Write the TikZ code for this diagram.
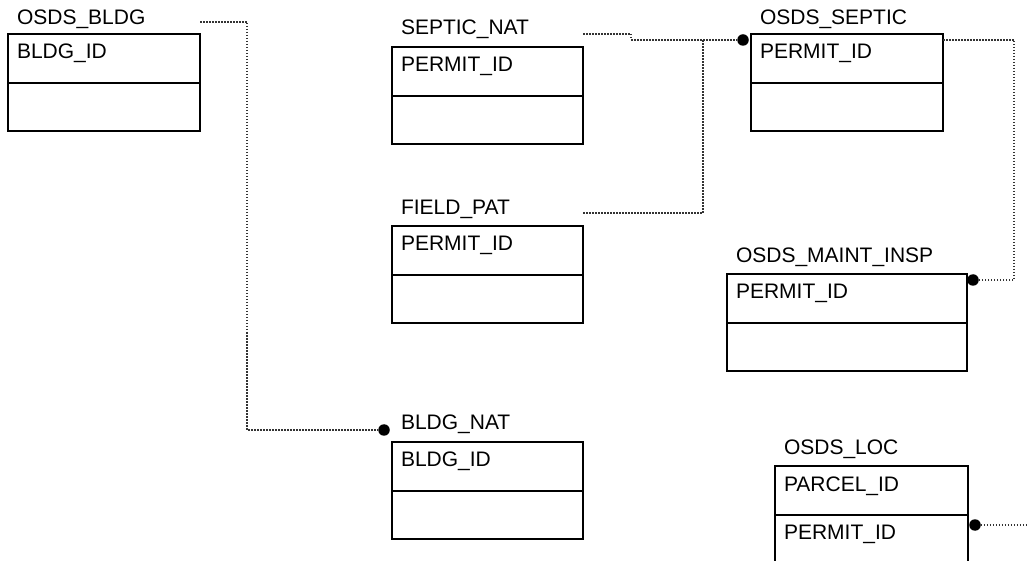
\documentclass[tikz,border=0pt]{standalone}
\usepackage{fontspec}
\setmainfont{Liberation Sans}
\begin{document}
\begin{tikzpicture}[x=1pt,y=-1pt,
  tbl/.style={draw=black, line width=2pt, rectangle, inner sep=0pt, outer sep=0pt, anchor=north west, minimum height=97pt},
  tblline/.style={line width=2pt},
  lbl/.style={anchor=base west, inner sep=0pt, outer sep=0pt, font=\fontsize{21}{25}\selectfont},
  rel/.style={draw=black!80, line width=1.2pt, dash pattern=on 1.5pt off 1.5pt},
  enddot/.style={circle, fill=black, inner sep=0pt, minimum size=11.5pt}]
\newcommand\erbox[7]{%
  \node[tbl, minimum width=#4pt] (#1) at (#2,#3) {};
  \draw[tblline] ([yshift=-49pt]#1.north west) -- ([yshift=-49pt]#1.north east);
  \node[lbl] (#1-t) at ([xshift=9pt,yshift=#7pt]#1.north west) {#5};
  \node[lbl] (#1-a) at ([xshift=9pt,yshift=-25pt]#1.north west) {#6};
}
\clip (0,0) rectangle (1029,561);
\fill[white] (0,0) rectangle (1029,561);
% tables
\erbox{bldg}{8}{34}{192}{OSDS\_BLDG}{BLDG\_ID}{9}
\erbox{sepnat}{392}{47}{191}{SEPTIC\_NAT}{PERMIT\_ID}{12}
\erbox{field}{392}{226}{191}{FIELD\_PAT}{PERMIT\_ID}{11}
\erbox{septic}{751}{34}{192}{OSDS\_SEPTIC}{PERMIT\_ID}{9}
\erbox{maint}{727}{274}{240}{OSDS\_MAINT\_INSP}{PERMIT\_ID}{11}
\erbox{bnat}{392}{442}{191}{BLDG\_NAT}{BLDG\_ID}{12}
\erbox{loc}{775}{466}{193}{OSDS\_LOC}{PARCEL\_ID}{12}
\node[lbl] (loc-b) at ([xshift=9pt,yshift=-73pt]loc.north west) {PERMIT\_ID};
% end dots
\node[enddot] (d1) at (384,430) {};
\node[enddot] (d2) at (743,40) {};
\node[enddot] (d3) at (973,280) {};
\node[enddot] (d4) at (975,525) {};
% connectors
\coordinate (c1) at (200,22);
\draw[rel] (c1) -- (247,22) |- (d1);
\coordinate (c2) at (583,34);
\draw[rel] (c2) -- (631,34) -- (631,40) -- (d2);
\coordinate (c3) at (583,213);
\draw[rel] (c3) -| (703,40);
\coordinate (c4) at (943,40);
\draw[rel] (c4) -- (1014,40) |- (d3);
\coordinate (c5) at (1029,525);
\draw[rel] (d4) -- (c5);
\end{tikzpicture}
\end{document}
